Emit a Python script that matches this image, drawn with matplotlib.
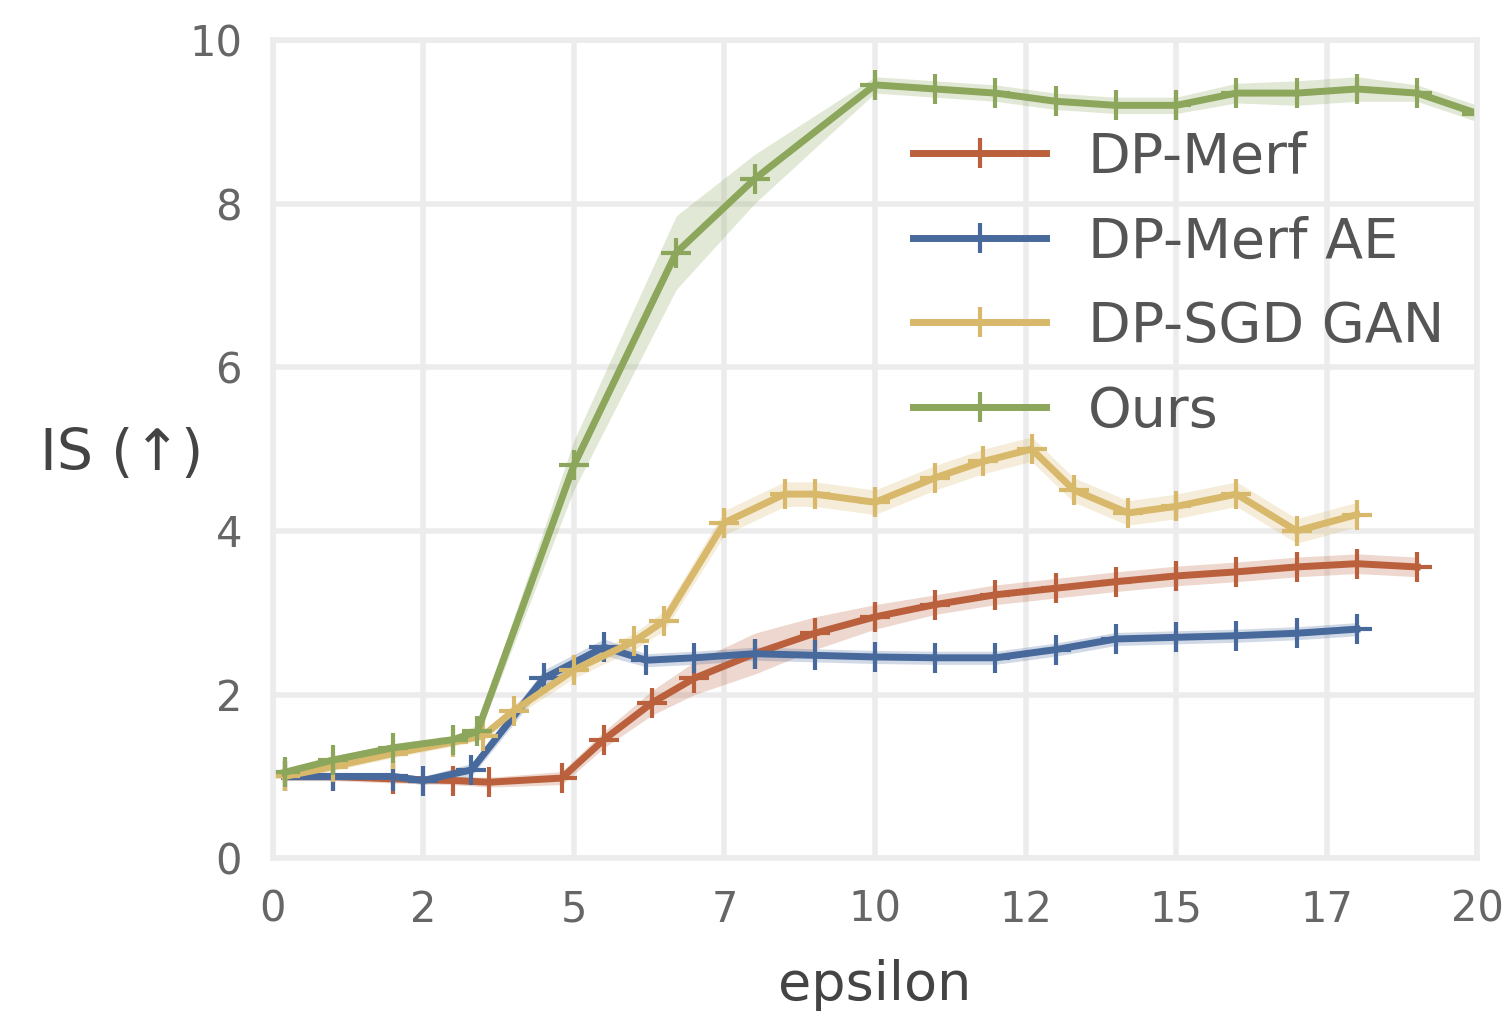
import matplotlib
matplotlib.use("Agg")
import matplotlib.pyplot as plt
import numpy as np

# values
merf_x = [0.2, 1, 2, 3, 3.6, 4.8, 5.5, 6.3, 7, 8, 9, 10, 11, 12, 13, 14, 15, 16, 17, 18, 19]
merf_y = [1.0, 1.0, 0.97, 0.95, 0.93, 0.98, 1.45, 1.9, 2.2, 2.5, 2.75, 2.95, 3.1, 3.22, 3.3, 3.38, 3.45, 3.5, 3.56, 3.6, 3.56]
merf_sd = [0.05, 0.05, 0.05, 0.05, 0.06, 0.08, 0.1, 0.15, 0.2, 0.25, 0.2, 0.15, 0.12, 0.12, 0.12, 0.12, 0.12, 0.12, 0.12, 0.12, 0.12]

ae_x = [0.2, 1, 2, 2.5, 3.3, 4.5, 5.5, 6.2, 7, 8, 9, 10, 11, 12, 13, 14, 15, 16, 17, 18]
ae_y = [1.0, 1.0, 1.0, 0.95, 1.08, 2.2, 2.58, 2.42, 2.45, 2.5, 2.48, 2.46, 2.45, 2.45, 2.55, 2.68, 2.7, 2.72, 2.75, 2.8]
ae_sd = [0.05, 0.05, 0.05, 0.05, 0.08, 0.1, 0.1, 0.08, 0.08, 0.08, 0.08, 0.08, 0.08, 0.08, 0.08, 0.08, 0.08, 0.08, 0.08, 0.08]

sgd_x = [0.2, 1, 2, 3, 3.5, 4, 5, 6, 6.5, 7.5, 8.5, 9, 10, 11, 11.8, 12.6, 13.3, 14.2, 15, 16, 17, 18]
sgd_y = [1.0, 1.12, 1.28, 1.42, 1.5, 1.8, 2.3, 2.65, 2.9, 4.1, 4.45, 4.45, 4.35, 4.65, 4.85, 5.0, 4.5, 4.22, 4.3, 4.45, 4.0, 4.2]
sgd_sd = [0.05, 0.05, 0.05, 0.05, 0.05, 0.08, 0.1, 0.1, 0.12, 0.15, 0.15, 0.15, 0.15, 0.15, 0.15, 0.15, 0.15, 0.15, 0.15, 0.15, 0.15, 0.15]

ours_x = [0.2, 1, 2, 3, 3.4, 5, 6.7, 8, 10, 11, 12, 13, 14, 15, 16, 17, 18, 19, 20]
ours_y = [1.05, 1.2, 1.35, 1.45, 1.55, 4.8, 7.4, 8.3, 9.45, 9.4, 9.35, 9.25, 9.2, 9.2, 9.35, 9.35, 9.4, 9.35, 9.1]
ours_sd = [0.05, 0.05, 0.05, 0.05, 0.08, 0.3, 0.45, 0.3, 0.1, 0.1, 0.1, 0.1, 0.1, 0.1, 0.12, 0.15, 0.15, 0.1, 0.1]

labels = ['DP-Merf', 'DP-Merf AE', 'DP-SGD GAN', 'Ours']
colors = ['#bb603c', '#48699c', '#d8b86a', '#8ca65c']
xticks = [0, 2.5, 5, 7.5, 10, 12.5, 15, 17.5, 20]
xticklabels = ['0', '2', '5', '7', '10', '12', '15', '17', '20']
yticks = [0, 2, 4, 6, 8, 10]

plt.rcParams['font.family'] = ['DejaVu Sans']

fig = plt.figure(figsize=(15.06, 10.23), dpi=100)
ax = fig.add_axes([0.181, 0.161, 0.8, 0.8])

series = [(merf_x, merf_y, merf_sd), (ae_x, ae_y, ae_sd),
          (sgd_x, sgd_y, sgd_sd), (ours_x, ours_y, ours_sd)]
for (x, y, sd), lab, c in zip(series, labels, colors):
    x = np.array(x)
    y = np.array(y)
    sd = np.array(sd)
    ax.fill_between(x, y - sd, y + sd, color=c, alpha=0.25, lw=0)
    ax.plot(x, y, color=c, lw=5, marker='+', ms=22, mew=3, label=lab)

ax.set_xlim(0, 20)
ax.set_ylim(0, 10)
ax.set_xticks(xticks)
ax.set_xticklabels(xticklabels)
ax.set_yticks(yticks)
ax.grid(True, color='#ececec', lw=4)
ax.set_axisbelow(True)
for s in ax.spines.values():
    s.set_color('#ececec')
    s.set_linewidth(4)
ax.tick_params(length=0, labelsize=30, labelcolor='#666666', pad=22)

ax.set_xlabel('epsilon', fontsize=39, color='#444444', labelpad=20)
ax.set_ylabel('IS (↑)', fontsize=41, color='#444444', rotation=0, va='center')
ax.yaxis.set_label_coords(-0.125, 0.493)

ax.legend(loc='upper left', bbox_to_anchor=(0.49, 0.95), frameon=False,
          fontsize=40, handlelength=2.4, handletextpad=0.75, labelspacing=0.55,
          labelcolor='#555555')

fig.savefig('out.png', dpi=100)
